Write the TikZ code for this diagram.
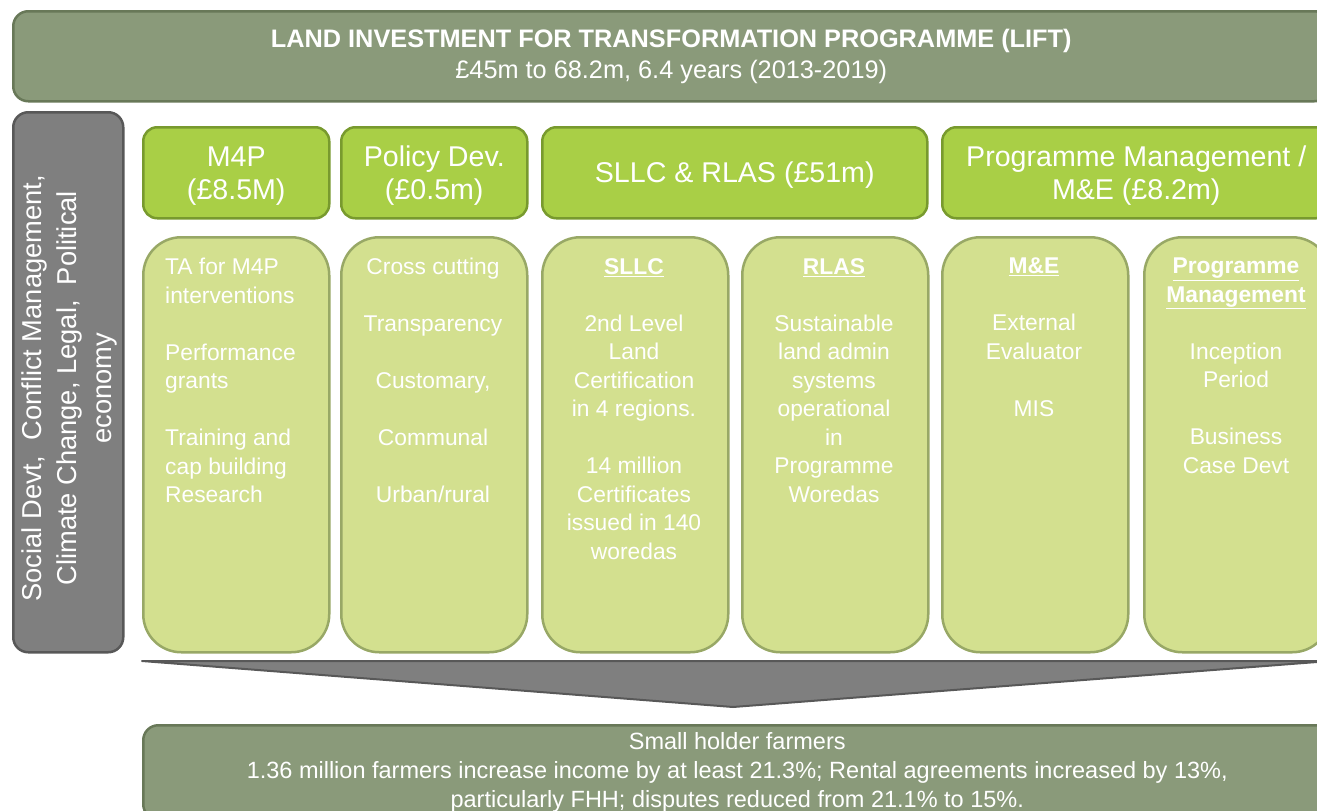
\documentclass[tikz,border=0pt]{standalone}
\usepackage{fontspec}
\setmainfont{Liberation Sans}
\usetikzlibrary{positioning}
\definecolor{bannerfill}{RGB}{138,154,122}
\definecolor{bannerline}{RGB}{104,120,88}
\definecolor{greyfill}{RGB}{127,127,127}
\definecolor{greyline}{RGB}{88,88,88}
\definecolor{headfill}{RGB}{169,207,70}
\definecolor{headline}{RGB}{120,154,46}
\definecolor{subfill}{RGB}{211,224,143}
\definecolor{subline}{RGB}{152,168,102}
\tikzset{
  banner/.style={draw=bannerline, fill=bannerfill, line width=2.5pt, rounded corners=15pt,
    anchor=north west, text=white, align=center},
  sidebar/.style={draw=greyline, fill=greyfill, line width=2.5pt, rounded corners=15pt,
    anchor=north west},
  headbox/.style={draw=headline, fill=headfill, line width=2.5pt, rounded corners=14pt,
    anchor=north west, minimum height=91pt, text=white, align=center,
    font=\fontsize{28.6}{33}\selectfont},
  headtext/.style={text=white, align=center, font=\fontsize{28.6}{33}\selectfont},
  subbox/.style={draw=subline, fill=subfill, line width=2.5pt, rounded corners=38pt,
    anchor=north west, minimum height=415pt, minimum width=186pt},
  subtext/.style={anchor=north, inner sep=0pt, text=white, align=center,
    font=\fontsize{22.8}{28.5}\selectfont},
  chevron/.style={draw=greyline, fill=greyfill, line width=2pt, line join=round},
}
\newcommand{\hd}[1]{\underline{\textbf{#1}}}
\begin{document}
\begin{tikzpicture}[x=1pt,y=-1pt]
\clip (0,0) rectangle (1317,811);
%\draw[help lines] (0,0) grid[step=100] (1317,811);
\node[banner, minimum width=1316pt, minimum height=90pt,
  font=\fontsize{25.3}{31}\selectfont] (lift) at (12,10)
  {\textbf{LAND INVESTMENT FOR TRANSFORMATION PROGRAMME (LIFT)}\\£45m to 68.2m, 6.4 years (2013-2019)};
\node[sidebar, minimum width=110pt, minimum height=540pt] (cross) at (12,111) {};
\node[rotate=90, text=white, align=center, font=\fontsize{27.3}{35}\selectfont] (crosstext)
  at ([xshift=1pt,yshift=-6pt]cross.center) {Social Devt,\ \ Conflict Management,\\Climate Change, Legal,\ \ Political\\economy};
% funding heads
\node[headbox, minimum width=186pt] (m4p) at (142,126) {};
\node[headbox, minimum width=186pt] (policy) at (340,126) {};
\node[headbox, minimum width=385pt] (sllcrlas) at (541,126) {};
\node[headbox, minimum width=388pt] (pme) at (941,126) {};
\node[headtext] (m4ptext) at ([yshift=-3pt]m4p.center) {M4P\\(£8.5M)};
\node[headtext] (policytext) at ([yshift=-3pt]policy.center) {Policy Dev.\\(£0.5m)};
\node[headtext] (sllcrlastext) at ([yshift=-2pt]sllcrlas.center) {SLLC \& RLAS (£51m)};
\node[headtext] (pmetext) at ([yshift=-3pt]pme.center) {Programme Management /\\M\&E (£8.2m)};
% activity columns
\foreach \x/\n in {142/a,340/b,541/c,741/d,941/e,1143/f}
  \node[subbox] (sub\n) at (\x,236) {};
\node[subtext, anchor=north west, align=left] (txta) at (165,258)
  {TA for M4P\\interventions\\[28.5pt]Performance\\grants\\[28.5pt]Training and\\cap building\\Research};
\node[subtext] (txtb) at (433,258)
  {Cross cutting\\[28.5pt]Transparency\\[28.5pt]Customary,\\[28.5pt]Communal\\[28.5pt]Urban/rural};
\node[subtext] (txtc) at (634,258)
  {\hd{SLLC}\\[28.5pt]2nd Level\\Land\\Certification\\in 4 regions.\\[28.5pt]14 million\\Certificates\\issued in 140\\woredas};
\node[subtext] (txtd) at (834,258)
  {\hd{RLAS}\\[28.5pt]Sustainable\\land admin\\systems\\operational\\in\\Programme\\Woredas};
\node[subtext] (txte) at (1034,258)
  {\hd{M\&E}\\[28.5pt]External\\Evaluator\\[28.5pt]MIS};
\node[subtext] (txtf) at (1236,258)
  {\hd{Programme}\\\hd{Management}\\[28.5pt]Inception\\Period\\[28.5pt]Business\\Case Devt};
% funnel to outcome
\coordinate (chl) at (142,661);
\coordinate (chr) at (1330,661);
\coordinate (chtip) at (733,707);
\draw[chevron] (chl) -- (chr) -- (chtip) -- cycle;
\node[banner, minimum width=1188pt, minimum height=94pt,
  font=\fontsize{23.5}{29}\selectfont] (farmers) at (142,724)
  {Small holder farmers\\1.36 million farmers increase income by at least 21.3\%; Rental agreements increased by 13\%,\\particularly FHH; disputes reduced from 21.1\% to 15\%.};
\end{tikzpicture}
\end{document}
